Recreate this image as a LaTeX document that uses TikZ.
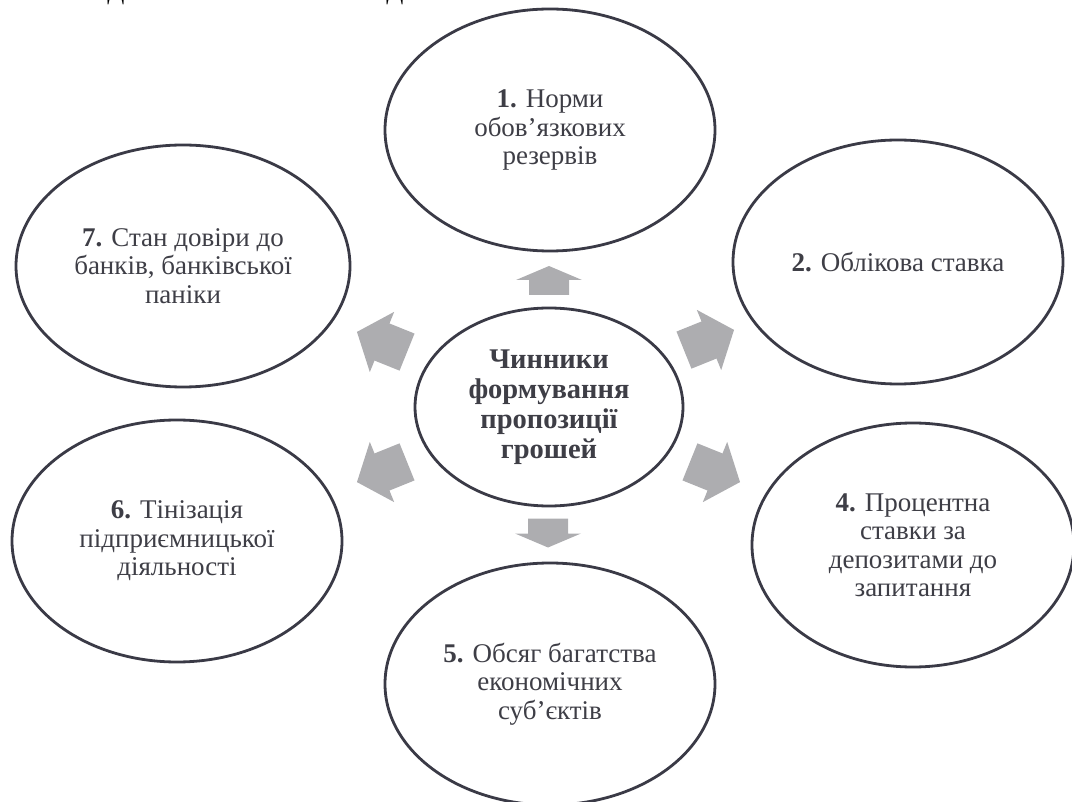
\documentclass[tikz,border=0pt]{standalone}
\usepackage{fontspec}
\setmainfont{Liberation Serif}
\usetikzlibrary{shapes.geometric}
\definecolor{linec}{RGB}{58,58,70}
\definecolor{txtc}{RGB}{62,62,70}
\definecolor{arrowgray}{RGB}{173,173,176}
\begin{document}
\begin{tikzpicture}[x=1pt,y=-1pt,
  factor/.style={ellipse, draw=linec, line width=2.8pt, fill=white, inner sep=0pt,
    align=center, text=txtc, font=\fontsize{27}{28.5}\selectfont},
  hub/.style={ellipse, draw=linec, line width=2.8pt, fill=white, inner sep=0pt,
    align=center, text=txtc, font=\fontsize{28.5}{30}\selectfont\bfseries},
  frag/.style={anchor=base, text=black, font=\fontsize{25}{28}\selectfont, inner sep=0pt},
  pics/diagarrow/.style={code={
    \fill[arrowgray] (-27,-20) -- (0,-20) -- (0,-32.5) -- (27,0) -- (0,32.5) -- (0,20) -- (-27,20) -- cycle;}},
  pics/vertarrow/.style={code={
    \fill[arrowgray] (-14.5,-20) -- (0.5,-20) -- (0.5,-33) -- (14.5,0) -- (0.5,33) -- (0.5,20) -- (-14.5,20) -- cycle;}}
]
\useasboundingbox (0,0) rectangle (1072,802);
\clip (0,0) rectangle (1072,802);

% cut-off heading fragments at the top edge
\node[frag] (frag1) at (116,0) {Д};
\node[frag] (frag2) at (395,0) {Д};

% factor ellipses
\node[factor, minimum width=330pt, minimum height=242pt] (f1) at (550,130)
  {\textbf{1.} Норми\\обов’язкових\\резервів};
\node[factor, minimum width=330pt, minimum height=244pt] (f2) at (898,262)
  {\textbf{2.} Облікова ставка};
\node[factor, minimum width=322pt, minimum height=244pt] (f4) at (913,545)
  {\textbf{4.} Процентна\\ставки за\\депозитами до\\запитання};
\node[factor, minimum width=330pt, minimum height=242pt] (f5) at (550,684)
  {\textbf{5.} Обсяг багатства\\економічних\\суб’єктів};
\node[factor, minimum width=330pt, minimum height=242pt] (f6) at (177,541)
  {\textbf{6.} Тінізація\\підприємницької\\діяльності};
\node[factor, minimum width=334pt, minimum height=242pt] (f7) at (183,266)
  {\textbf{7.} Стан довіри до\\банків, банківської\\паніки};

% central ellipse
\node[hub, minimum width=268pt, minimum height=198pt] (hub) at (549,407)
  {Чинники\\формування\\пропозиції\\грошей};

% block arrows
\pic[rotate=90] at (549,280.5) {vertarrow};
\pic[rotate=270] at (548,533) {vertarrow};
\pic[rotate=158] at (382,342) {diagarrow};
\pic[rotate=22] at (709,340) {diagarrow};
\pic[rotate=202] at (382,472) {diagarrow};
\pic[rotate=-22] at (715,472) {diagarrow};
\end{tikzpicture}
\end{document}
